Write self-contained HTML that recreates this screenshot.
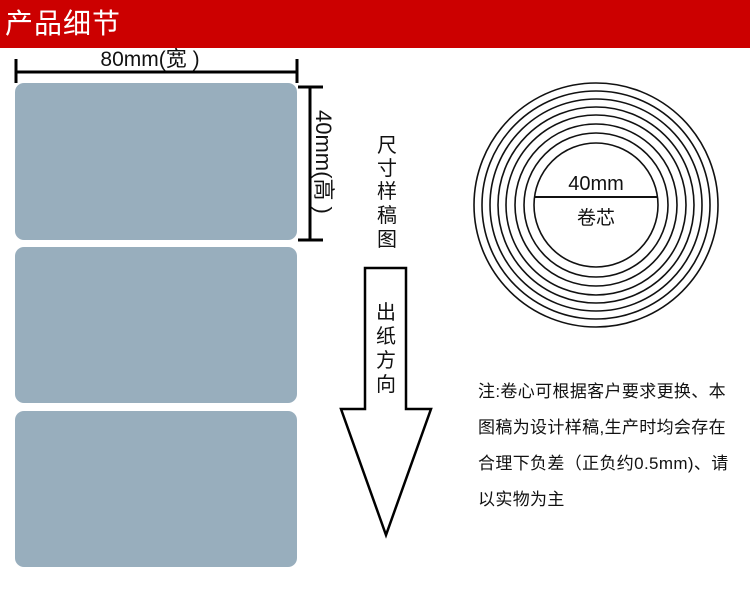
<!DOCTYPE html>
<html><head><meta charset="utf-8"><style>
body{margin:0;width:750px;height:590px;background:#fff;overflow:hidden;position:relative;font-family:"Liberation Sans","Noto Sans CJK SC",sans-serif;}
.hdr{position:absolute;left:0;top:0;width:750px;height:48px;background:#cc0000;color:#fff;font-size:28px;line-height:48px;padding-left:5px;box-sizing:border-box;letter-spacing:1px}
.r{position:absolute;left:15px;width:282px;background:#98aebd;border-radius:9px}
.note{position:absolute;left:478px;top:374px;width:272px;font-size:17px;line-height:36px;color:#111;white-space:nowrap;letter-spacing:0.35px}
</style></head><body>
<div class="hdr">产品细节</div>
<div class="r" style="top:83px;height:157px"></div>
<div class="r" style="top:247px;height:156px"></div>
<div class="r" style="top:411px;height:156px"></div>
<svg width="750" height="590" style="position:absolute;left:0;top:0">
<g stroke="#000" stroke-width="3" fill="none">
<line x1="16" y1="72" x2="297" y2="72"/><line x1="16" y1="59" x2="16" y2="83"/><line x1="297" y1="59" x2="297" y2="83"/>
<line x1="310" y1="87" x2="310" y2="240"/><line x1="298" y1="87" x2="323" y2="87"/><line x1="298" y1="240" x2="323" y2="240"/>
</g>
<g stroke="#111" stroke-width="1.6" fill="none">
<circle cx="596" cy="205" r="122"/><circle cx="596" cy="205" r="114"/><circle cx="596" cy="205" r="106"/><circle cx="596" cy="205" r="98"/><circle cx="596" cy="205" r="90"/><circle cx="596" cy="205" r="81"/><circle cx="596" cy="205" r="72"/><circle cx="596" cy="205" r="62"/>
<line x1="534" y1="197" x2="658" y2="197" stroke-width="2"/>
</g>
<polygon points="365,268 406,268 406,409 431,409 386,535 341,409 365,409" fill="#fff" stroke="#000" stroke-width="2.5" stroke-linejoin="miter"/>
<text x="150" y="66" font-size="21" text-anchor="middle" fill="#111">80mm(宽 )</text>
<text transform="translate(316,110) rotate(90)" font-size="22" fill="#111">40mm(高 )</text>
<text x="596" y="190" font-size="20" text-anchor="middle" fill="#111">40mm</text>
<text x="596" y="224" font-size="19" text-anchor="middle" fill="#111">卷芯</text>
<g font-size="20" fill="#111" text-anchor="middle">
<text x="387" y="152">尺</text><text x="387" y="175">寸</text><text x="387" y="198">样</text><text x="387" y="222">稿</text><text x="387" y="246">图</text>
<text x="386" y="319">出</text><text x="386" y="343">纸</text><text x="386" y="367">方</text><text x="386" y="391">向</text>
</g>
</svg>
<div class="note">注:卷心可根据客户要求更换、本<br>图稿为设计样稿,生产时均会存在<br>合理下负差（正负约0.5mm)、请<br>以实物为主</div>
</body></html>
